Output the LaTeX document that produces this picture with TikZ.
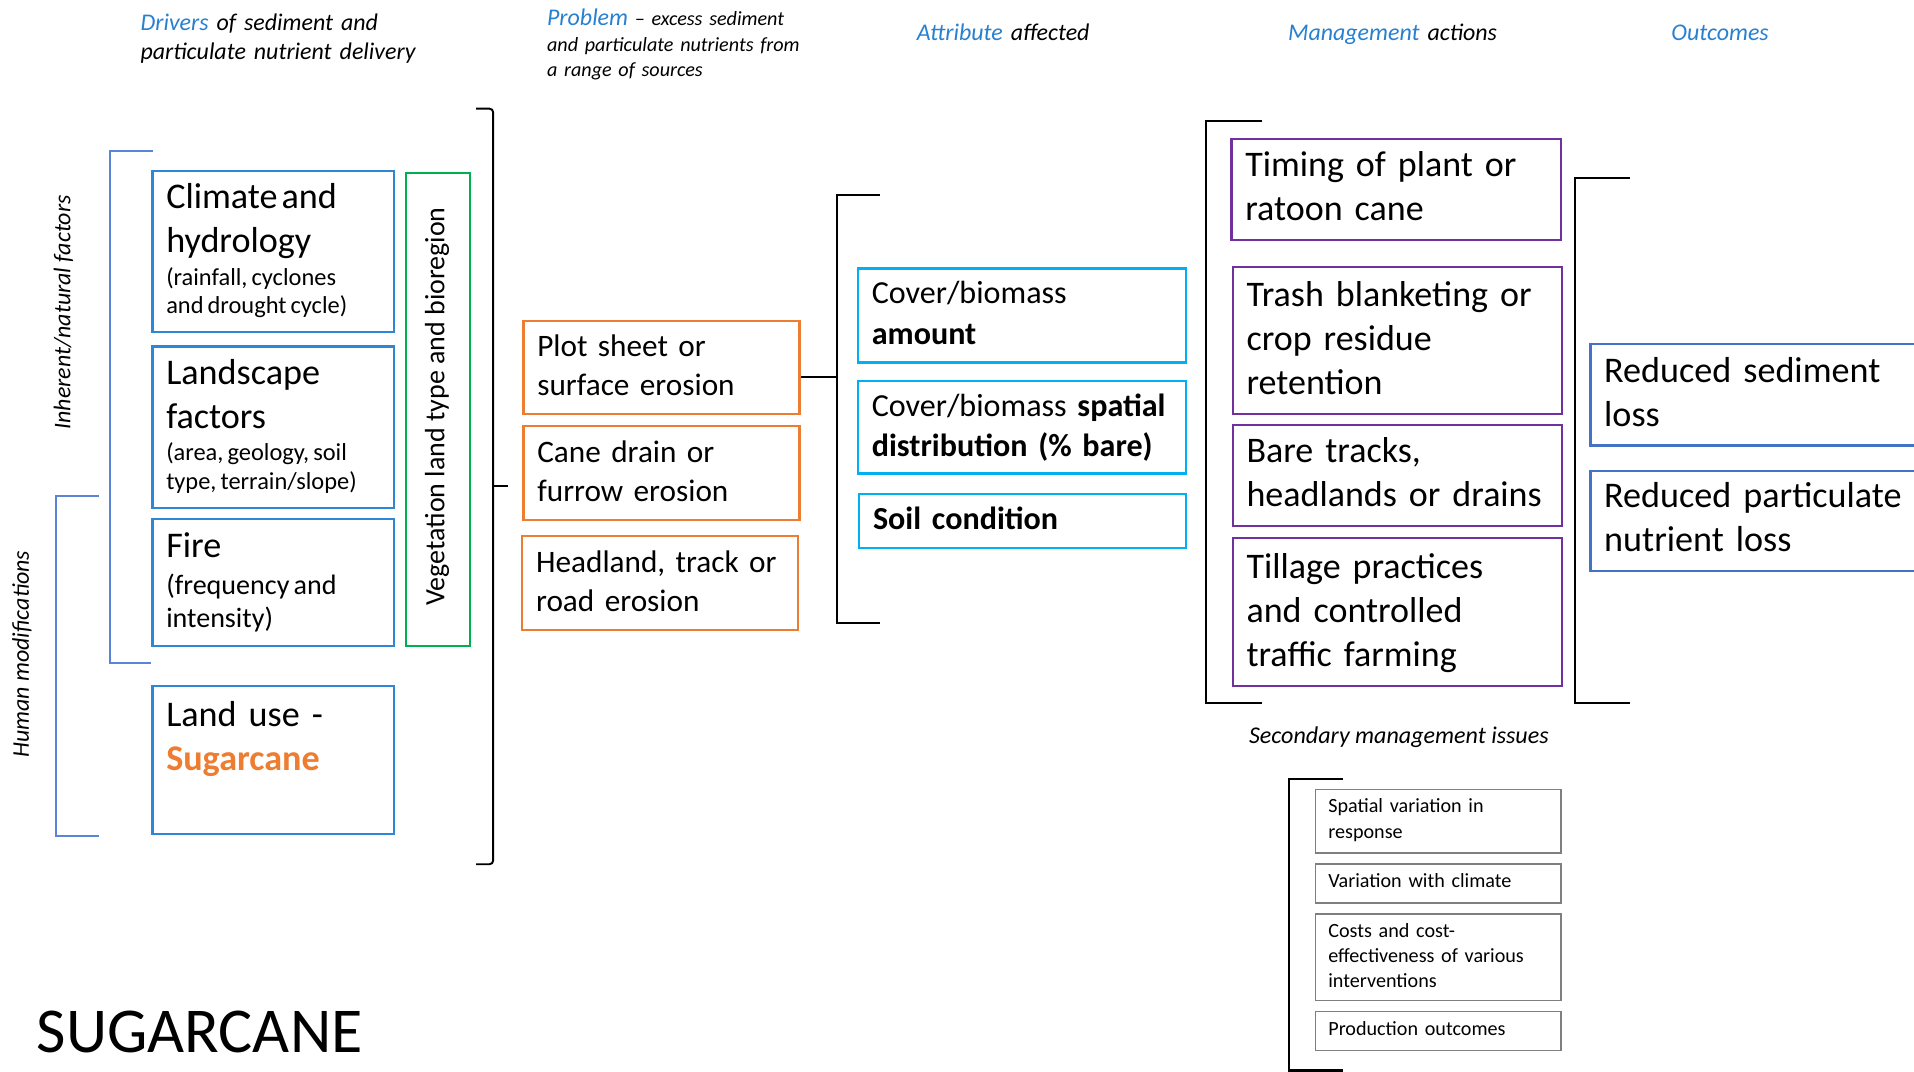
\documentclass[tikz,border=0pt]{standalone}
\usepackage{fontspec}
\setmainfont{Carlito}
\definecolor{hblue}{RGB}{40,128,208}
\definecolor{drvblue}{RGB}{46,134,214}
\definecolor{brkblue}{RGB}{90,132,214}
\definecolor{outblue}{RGB}{68,114,196}
\definecolor{vgreen}{RGB}{0,176,80}
\definecolor{probor}{RGB}{237,125,49}
\definecolor{attcyan}{RGB}{0,176,240}
\definecolor{mgpurple}{RGB}{112,48,160}
\definecolor{secgray}{RGB}{127,127,127}
\newcommand\setfs[2]{\fontsize{#1}{#2}\selectfont}

\begin{document}
\begin{tikzpicture}[x=1pt,y=-1pt,
  box/.style={draw, line width=1.8pt, inner sep=0pt, anchor=north west},
  drvbox/.style={box, draw=drvblue},
  probbox/.style={box, draw=probor},
  attbox/.style={box, draw=attcyan},
  mgbox/.style={box, draw=mgpurple},
  outbox/.style={box, draw=outblue},
  secbox/.style={box, draw=secgray, line width=1.4pt},
  lbl/.style={inner sep=0pt, align=left, text width=#1, anchor=base west},
  lbl/.default=320pt,
  hdr/.style={inner sep=0pt, align=left, text width=300pt, anchor=base west, font=\itshape\setfs{19.6}{24}},
  bracket/.style={draw=black, line width=1.6pt},
  bluebracket/.style={draw=brkblue, line width=1.6pt},
]
\useasboundingbox (0,0) rectangle (1568,878);
\fill[white] (0,0) rectangle (1568,878);
\clip (0,0) rectangle (1568,878);

% ---------- column headings ----------
\node (hdrivers) [hdr] at (115,25) {{\color{hblue}Drivers} of sediment and\\particulate nutrient delivery};
\node (hproblem) [hdr, font=\itshape\setfs{16.5}{21}] at (448,21)
  {{\setfs{19.6}{21}\color{hblue}Problem} -- excess sediment\\and particulate nutrients from\\a range of sources};
\node (hattr) [hdr] at (751,33) {{\color{hblue}Attribute} affected};
\node (hmgmt) [hdr] at (1055,33) {{\color{hblue}Management} actions};
\node (hout) [hdr] at (1369,33) {{\color{hblue}Outcomes}};

% ---------- drivers ----------
\node (inherent) [rotate=90, inner sep=0pt, font=\itshape\setfs{19.6}{24}] at (52,256) {Inherent/natural factors};
\node (human) [rotate=90, inner sep=0pt, font=\itshape\setfs{19.6}{24}] at (18,536) {Human modifications};
\path[bluebracket] (125,124) -- (90,124) -- (90,543) -- (124,543);
\path[bluebracket] (81,406) -- (46,406) -- (46,685) -- (81,685);

\node (climate) [drvbox, minimum width=198pt, minimum height=132pt] at (124,139) {};
\node (climateT) [lbl] at (136,171)
  {{\setfs{29.6}{36}Climate and\\hydrology\par}\vspace{4pt}{\setfs{20}{23}(rainfall, cyclones\\and drought cycle)\par}};
\node (landsc) [drvbox, minimum width=198pt, minimum height=132pt] at (124,283) {};
\node (landscT) [lbl] at (136,315)
  {{\setfs{29.6}{36}Landscape\\factors\par}\vspace{2pt}{\setfs{20}{24}(area, geology, soil\\type, terrain/slope)\par}};
\node (fire) [drvbox, minimum width=198pt, minimum height=104pt] at (124,424) {};
\node (fireT) [lbl] at (136,457)
  {{\setfs{29.6}{36}Fire\par}\vspace{3pt}{\setfs{23}{27}(frequency and\\intensity)\par}};
\node (landuse) [drvbox, minimum width=198pt, minimum height=121pt] at (124,561) {};
\node (landuseT) [lbl, font=\setfs{29.6}{36}] at (136,595)
  {Land use -\\{\bfseries\color{probor}Sugarcane}};

\node (veg) [box, draw=vgreen, minimum width=52pt, minimum height=387pt] at (332,141) {};
\node (vegT) [rotate=90, inner sep=0pt, font=\setfs{22.9}{26}] at (358,333) {Vegetation land type and bioregion};

\path[bracket, rounded corners=3pt] (390,89) -- (404,89) -- (404,708) -- (390,708);
\path[bracket] (404,398) -- (416,398);

% ---------- problem sources ----------
\node (plot) [probbox, minimum width=226pt, minimum height=76pt] at (428,262) {};
\node (plotT) [lbl, font=\setfs{25.6}{32}] at (440,292) {Plot sheet or\\surface erosion};
\node (cane) [probbox, minimum width=226pt, minimum height=77pt] at (428,348) {};
\node (caneT) [lbl, font=\setfs{25.6}{32}] at (440,379) {Cane drain or\\furrow erosion};
\node (head) [probbox, minimum width=226pt, minimum height=77pt] at (427,438) {};
\node (headT) [lbl, font=\setfs{25.6}{32}] at (439,469) {Headland, track or\\road erosion};

\path[bracket] (721,160) -- (686,160) -- (686,510) -- (721,510);
\path[bracket] (656,309) -- (686,309);

% ---------- attributes ----------
\node (amount) [attbox, minimum width=269pt, minimum height=77pt] at (702,219) {};
\node (amountT) [lbl, font=\setfs{26.3}{33}] at (714,249) {Cover/biomass\\\textbf{amount}};
\node (spatial) [attbox, minimum width=269pt, minimum height=76pt] at (702,311) {};
\node (spatialT) [lbl, font=\setfs{26.3}{33}] at (714,341) {Cover/biomass \textbf{spatial}\\\textbf{distribution (\% bare)}};
\node (soil) [attbox, minimum width=268pt, minimum height=44pt] at (703,404) {};
\node (soilT) [lbl, font=\setfs{26.3}{33}] at (715,434) {\textbf{Soil condition}};

% ---------- management actions ----------
\path[bracket] (1034,99) -- (988,99) -- (988,576) -- (1034,576);
\node (timing) [mgbox, minimum width=270pt, minimum height=83pt] at (1008,113) {};
\node (timingT) [lbl, font=\setfs{29.5}{36}] at (1020,145) {Timing of plant or\\ratoon cane};
\node (trash) [mgbox, minimum width=270pt, minimum height=120pt] at (1009,218) {};
\node (trashT) [lbl, font=\setfs{29.5}{36}] at (1021,251) {Trash blanketing or\\crop residue\\retention};
\node (bare) [mgbox, minimum width=270pt, minimum height=83pt] at (1009,347) {};
\node (bareT) [lbl, font=\setfs{29.5}{36}] at (1021,379) {Bare tracks,\\headlands or drains};
\node (till) [mgbox, minimum width=270pt, minimum height=121pt] at (1009,440) {};
\node (tillT) [lbl, font=\setfs{29.5}{36}] at (1021,474) {Tillage practices\\and controlled\\traffic farming};

% ---------- outcomes ----------
\path[bracket] (1335,146) -- (1290,146) -- (1290,576) -- (1335,576);
\node (sed) [outbox, minimum width=300pt, minimum height=83pt] at (1302,281) {};
\node (sedT) [lbl, font=\setfs{29.6}{36}] at (1314,313) {Reduced sediment\\loss};
\node (nutr) [outbox, minimum width=300pt, minimum height=82pt] at (1302,385) {};
\node (nutrT) [lbl, font=\setfs{29.6}{36}] at (1314,416) {Reduced particulate\\nutrient loss};

% ---------- secondary management issues ----------
\node (sechdr) [inner sep=0pt, anchor=base, font=\itshape\setfs{19.7}{24}] at (1146,609) {Secondary management issues};
\path[bracket, line width=1.8pt] (1100,638) -- (1056,638) -- (1056,877) -- (1100,877);
\node (s1) [secbox, minimum width=201pt, minimum height=52pt] at (1077,646) {};
\node (s1T) [lbl, font=\setfs{16.5}{21}] at (1088,666) {Spatial variation in\\response};
\node (s2) [secbox, minimum width=201pt, minimum height=32pt] at (1077,707) {};
\node (s2T) [lbl, font=\setfs{16.5}{21}] at (1088,727) {Variation with climate};
\node (s3) [secbox, minimum width=201pt, minimum height=71pt] at (1077,748) {};
\node (s3T) [lbl, font=\setfs{16.5}{20.5}] at (1088,768) {Costs and cost-\\effectiveness of various\\interventions};
\node (s4) [secbox, minimum width=201pt, minimum height=32pt] at (1077,828) {};
\node (s4T) [lbl, font=\setfs{16.5}{21}] at (1088,848) {Production outcomes};

% ---------- title ----------
\node (title) [inner sep=0pt, anchor=base west, font=\setfs{52.4}{60}] at (30,862) {SUGARCANE};
\end{tikzpicture}
\end{document}
